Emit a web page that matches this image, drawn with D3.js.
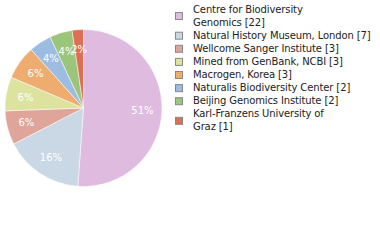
<!DOCTYPE html>
<html><head><meta charset="utf-8">
<script src="https://cdn.jsdelivr.net/npm/d3@7"></script>
<style>body{margin:0;background:#fff}svg{display:block}</style>
</head><body>
<svg id="c" width="380" height="240"></svg>
<script>
const categories = [
  ["Centre for Biodiversity", "Genomics [22]"],
  ["Natural History Museum, London [7]"],
  ["Wellcome Sanger Institute [3]"],
  ["Mined from GenBank, NCBI [3]"],
  ["Macrogen, Korea [3]"],
  ["Naturalis Biodiversity Center [2]"],
  ["Beijing Genomics Institute [2]"],
  ["Karl-Franzens University of", "Graz [1]"]
];
const values = [22, 7, 3, 3, 3, 2, 2, 1];
const colors = ["#dfbbdf", "#cad8e5", "#dfa59b", "#dde39e", "#efac6f", "#9dbce1", "#9bc57b", "#df6f53"];

const svg = d3.select("#c");
const cx = 83.5, cy = 108, r = 78.5;
const total = d3.sum(values);
const pie = d3.pie().sort(null).value(d => d)(values);
const arc = d3.arc().innerRadius(0).outerRadius(r);
const labelArc = d3.arc().innerRadius(59).outerRadius(59);
const g = svg.append("g").attr("transform", `translate(${cx},${cy})`);
g.selectAll("path").data(pie).join("path")
  .attr("d", arc).attr("fill", (d, i) => colors[i])
  .attr("stroke", "#fff").attr("stroke-width", 0.5);
g.selectAll("text").data(pie).join("text")
  .attr("transform", d => `translate(${labelArc.centroid(d)})`)
  .attr("text-anchor", "middle").attr("dy", "0.35em")
  .attr("fill", "#fff").attr("font-family", "DejaVu Sans").attr("font-size", 10)
  .text(d => Math.floor(d.value / total * 100) + "%");

const lg = svg.append("g");
let line = 0;
const y0 = 12.5, lh = 13.1;
categories.forEach((lines, i) => {
  const top = y0 + line * lh;
  const mid = top + (lines.length - 1) * lh / 2;
  lg.append("rect").attr("x", 175.5).attr("y", mid - 6.5).attr("width", 7).attr("height", 7)
    .attr("fill", colors[i]).attr("stroke", "#888").attr("stroke-width", 1);
  lines.forEach((t, k) => {
    lg.append("text").attr("x", 193).attr("y", top + k * lh)
      .attr("font-family", "DejaVu Sans").attr("font-size", 10).attr("letter-spacing", -0.12)
      .attr("fill", "#222").text(t);
  });
  line += lines.length;
});
</script>
</body></html>
